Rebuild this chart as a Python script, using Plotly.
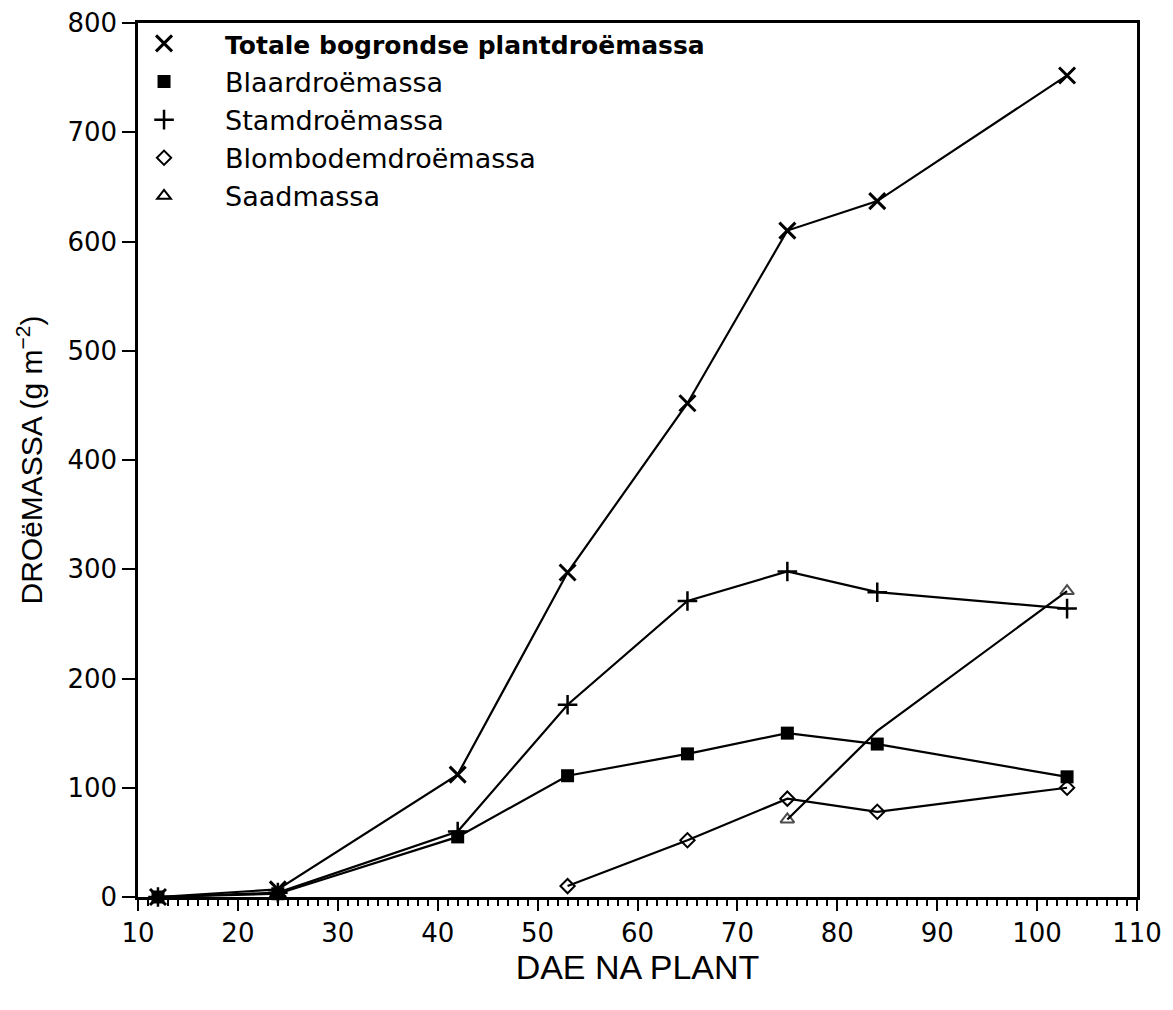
import plotly.graph_objects as go

# ---- data ----
days = [12, 24, 42, 53, 65, 75, 84, 103]
totale = [0, 7, 112, 297, 452, 610, 637, 752]
blaar = [0, 3, 55, 111, 131, 150, 140, 110]
stam = [0, 4, 60, 176, 271, 298, 279, 264]
blom_days = [53, 65, 75, 84, 103]
blom = [10, 52, 90, 78, 100]
saad_days = [75, 84, 103]
saad = [71, 152, 280]

names = ["<span style='font-size:25px'><b>Totale bogrondse plantdroëmassa</b></span>",
         "Blaardroëmassa", "Stamdroëmassa", "Blombodemdroëmassa", "Saadmassa"]
x_ticks = [10, 20, 30, 40, 50, 60, 70, 80, 90, 100, 110]
y_ticks = [0, 100, 200, 300, 400, 500, 600, 700, 800]

FONT = "DejaVu Sans, Verdana, sans-serif"
TFONT = "Liberation Sans, Arial, sans-serif"

markers = [
    dict(symbol="x-thin-open", size=16, line=dict(width=3, color="black"), color="black"),
    dict(symbol="square", size=13, color="black", line=dict(width=0)),
    dict(symbol="cross-thin-open", size=14, line=dict(width=2.5, color="black"), color="black"),
    dict(symbol="diamond-open", size=11, line=dict(width=2, color="black"), color="black"),
    dict(symbol="triangle-up-open", size=12, line=dict(width=2, color="black"), color="black"),
]

fig = go.Figure()

series = [(saad_days, saad, 4), (blom_days, blom, 3), (days, stam, 2), (days, blaar, 1), (days, totale, 0)]
for xs, ys, idx in series:
    m = dict(markers[idx])
    if idx == 4:
        m["size"] = [12, 0, 12]
    fig.add_trace(go.Scatter(x=xs, y=ys, mode="lines+markers",
                             line=dict(color="black", width=2.2),
                             marker=m, showlegend=False, cliponaxis=False,
                             hoverinfo="x+y"))

# legend-only entries (marker symbols only, as in the reference)
for i, nm in enumerate(names):
    fig.add_trace(go.Scatter(x=[None], y=[None], mode="markers", name=nm,
                             marker=markers[i], legendgroup=f"g{i}",
                             showlegend=True))

fig.update_layout(
    template="none",
    width=1157, height=994,
    margin=dict(l=130, r=28, t=14, b=105),
    paper_bgcolor="white", plot_bgcolor="white",
    font=dict(family=FONT, color="black", size=22),
    legend=dict(x=-0.035, y=1.003, xanchor="left", yanchor="top",
                bgcolor="rgba(0,0,0,0)", borderwidth=0,
                font=dict(family=FONT, size=27, color="black"),
                traceorder="grouped", tracegroupgap=0, itemwidth=112),
    xaxis=dict(range=[10, 110], tickvals=x_ticks, ticktext=[str(v) for v in x_ticks],
               showgrid=False, zeroline=False, showline=True, linecolor="black",
               linewidth=2.5, mirror=True, ticks="outside", ticklen=11, tickwidth=2,
               tickcolor="black", ticklabeloverflow="allow",
               minor=dict(dtick=1, tick0=10, ticks="outside", ticklen=6, tickwidth=1.5,
                          tickcolor="black", showgrid=False),
               tickfont=dict(family=FONT, size=26),
               title=dict(text="DAE NA PLANT", font=dict(family=TFONT, size=34), standoff=8)),
    yaxis=dict(range=[0, 800], tickvals=y_ticks, ticktext=[str(v) for v in y_ticks],
               showgrid=False, zeroline=False, showline=True, linecolor="black",
               linewidth=2.5, mirror=True, ticks="outside", ticklen=13, tickwidth=2,
               tickcolor="black", ticklabeloverflow="allow",
               tickfont=dict(family=FONT, size=26),
               title=dict(text="DROëMASSA (g m<sup>−2</sup>)", font=dict(family=TFONT, size=30),
                          standoff=16)),
)

fig.write_html("out.html")
